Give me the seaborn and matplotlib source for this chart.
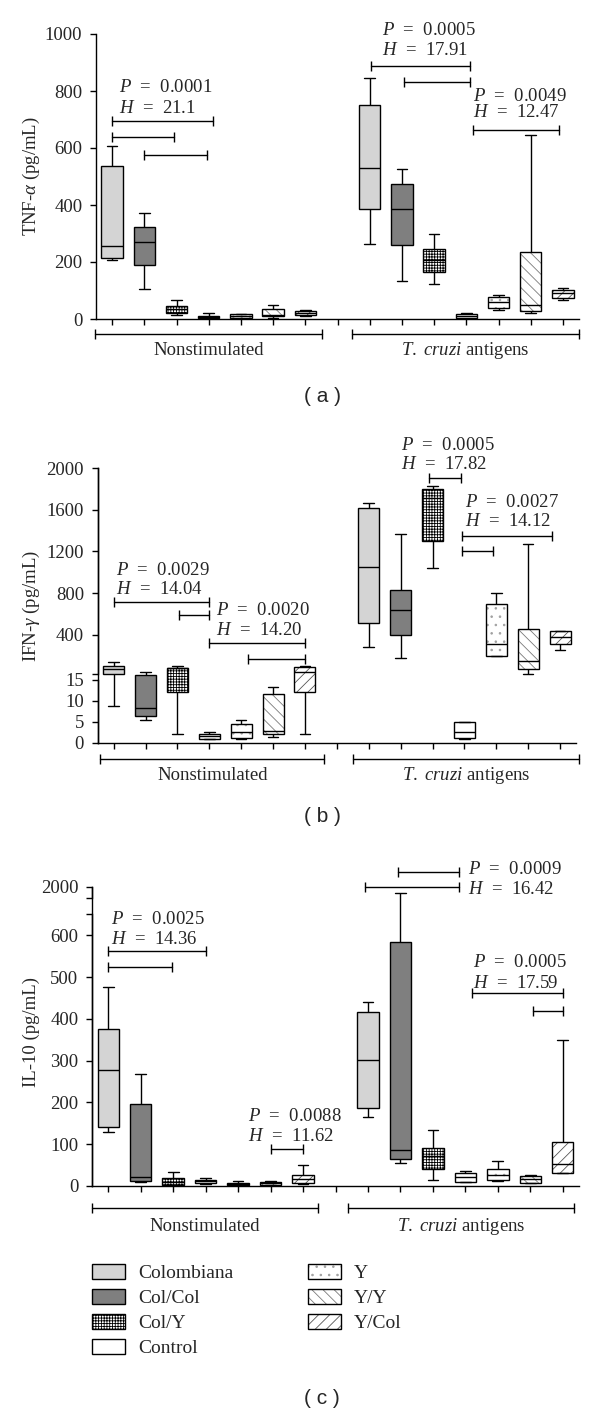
import numpy as np
import pandas as pd
import matplotlib
matplotlib.use("Agg")
import matplotlib.pyplot as plt
import seaborn as sns
from matplotlib.colors import to_rgba
from matplotlib.patches import Patch

groups = ["Colombiana", "Col/Col", "Col/Y", "Control", "Y", "Y/Y", "Y/Col"]
conditions = ["Nonstimulated", "T. cruzi antigens"]

# five-number summaries per group: min, q1, median, q3, max (pg/mL)
tnf_nonstim = [[208, 213, 257, 536, 608], [105, 191, 269, 322, 371], [14, 22, 35, 46, 68],
               [0, 2, 7, 12, 21], [0, 2, 10, 17, 18], [5, 10, 15, 35, 48], [12, 14, 21, 27, 33]]
tnf_tcruzi = [[264, 386, 529, 750, 847], [134, 260, 387, 475, 528], [124, 165, 208, 247, 298],
              [0, 3, 11, 16, 22], [33, 39, 60, 77, 85], [21, 28, 49, 234, 646], [67, 75, 90, 102, 109]]

ifn_nonstim = [[8.8, 21.7, 67, 102, 134], [5.4, 6.5, 8.4, 21, 42], [2.1, 12.1, 78, 83, 96],
               [0.9, 1.0, 1.5, 2.1, 2.5], [1.0, 1.05, 2.5, 4.4, 5.4], [1.4, 2.0, 2.9, 11.6, 13.4],
               [2.1, 12.1, 38, 86, 102]]
ifn_tcruzi = [[284, 509, 1054, 1618, 1669], [176, 397, 640, 827, 1365], [1038, 1301, 1717, 1804, 1833],
              [1.0, 1.05, 2.6, 4.95, 4.95], [198, 198, 308, 692, 804], [22, 67, 147, 452, 1275],
              [253, 308, 375, 435, 435]]

il10_nonstim = [[130, 140, 277, 376, 477], [9, 12, 21, 195, 269], [2, 3, 10, 20, 33],
                [5, 6.4, 11, 15, 19], [1, 2, 5, 8, 12.8], [2, 3.5, 6, 9.5, 11], [5, 6.4, 17.5, 25.6, 50]]
il10_tcruzi = [[164, 186, 301, 417, 439], [56, 64, 87, 584, 1708], [14, 40, 72, 91, 135],
               [9, 9.6, 21, 30, 36], [12, 14, 26, 41, 61], [6.4, 8, 16, 24, 26], [30, 32, 53, 105, 349]]

# Kruskal-Wallis results: P, H
tnf_tests = [("0.0001", "21.1"), ("0.0005", "17.91"), ("0.0049", "12.47")]
ifn_tests = [("0.0029", "14.04"), ("0.0020", "14.20"), ("0.0005", "17.82"), ("0.0027", "14.12")]
il10_tests = [("0.0025", "14.36"), ("0.0088", "11.62"), ("0.0009", "16.42"), ("0.0005", "17.59")]

fills = {"Colombiana": "#d4d4d4", "Col/Col": "#7f7f7f", "Col/Y": "white", "Control": "white",
         "Y": "white", "Y/Y": "white", "Y/Col": "white"}
hatches = {"Col/Y": "++++++", "Y": "..", "Y/Y": "\\\\\\", "Y/Col": "///"}
hatch_colors = {"Col/Y": "black", "Y": "#a0a0a0", "Y/Y": "#7a7a7a", "Y/Col": "#555555"}

sns.set_style("ticks")
plt.rcParams.update({
    "font.family": ["Liberation Serif", "DejaVu Serif"],
    "mathtext.fontset": "custom",
    "mathtext.rm": "Liberation Serif",
    "mathtext.it": "Liberation Serif:italic",
    "mathtext.bf": "Liberation Serif:bold",
    "hatch.linewidth": 0.6,
    "axes.linewidth": 1.0,
    "axes.edgecolor": "black",
})

FS = 13.5
W, H = 600, 1412
fig = plt.figure(figsize=(W / 100, H / 100), dpi=100)


def add_ax(left, right, top, bottom):
    return fig.add_axes([left / W, 1 - bottom / H, (right - left) / W, (bottom - top) / H])


def broken(knots_v, knots_p):
    kv = np.asarray(knots_v, float)
    kp = np.asarray(knots_p, float)
    s0 = (kp[1] - kp[0]) / (kv[1] - kv[0])
    s1 = (kp[-1] - kp[-2]) / (kv[-1] - kv[-2])
    kv = np.r_[kv[0] - 1e5, kv, kv[-1] + 1e5]
    kp = np.r_[kp[0] - 1e5 * s0, kp, kp[-1] + 1e5 * s1]
    return (lambda v: np.interp(np.asarray(v, float), kv, kp),
            lambda p: np.interp(np.asarray(p, float), kp, kv))


def style_hatch(patch, g):
    if g in hatches:
        patch.set_hatch(hatches[g])
        if hasattr(patch, "set_hatchcolor"):
            patch.set_hatchcolor(hatch_colors[g])
        else:
            patch._hatch_color = to_rgba(hatch_colors[g])


def draw_boxes(ax, nonstim, tcruzi):
    rows = []
    for cond, summaries in zip(conditions, [nonstim, tcruzi]):
        for g, vals in zip(groups, summaries):
            for v in vals:
                rows.append({"slot": f"{cond}|{g}", "group": g, "value": v})
    df = pd.DataFrame(rows)
    order = [f"{conditions[0]}|{g}" for g in groups] + ["gap"] + [f"{conditions[1]}|{g}" for g in groups]
    sns.boxplot(data=df, x="slot", y="value", hue="group", order=order, hue_order=groups,
                palette=fills, saturation=1, dodge=False, width=0.66, whis=(0, 100),
                linecolor="black", linewidth=1.0, legend=False, ax=ax)
    for patch in ax.patches:
        xs = patch.get_path().vertices[:, 0]
        slot = int(round((xs.min() + xs.max()) / 2))
        style_hatch(patch, groups[slot if slot < 7 else slot - 8])


def finish(ax, ylabel, label_xy, brackets_below):
    sns.despine(ax=ax)
    ax.set_xlim(-0.5, 14.5)
    ax.set_xticks(range(15))
    ax.set_xticklabels([])
    ax.set_xlabel("")
    ax.tick_params(axis="both", direction="out", length=4.3, width=1.0, color="black",
                   labelsize=FS, pad=5.5)
    ax.set_ylabel(ylabel, fontsize=FS, va="center")
    ax.yaxis.set_label_coords(*label_xy)
    (n0, n1, t0, t1, yl, yt) = brackets_below
    tr = ax.get_xaxis_transform()
    for (a, b), name in zip([(n0, n1), (t0, t1)], conditions):
        ax.plot([a, b], [yl, yl], transform=tr, color="black", lw=1.0, marker="|",
                markersize=7.5, markeredgewidth=1.0, clip_on=False)
        txt = "Nonstimulated" if name == conditions[0] else "$T.\\ cruzi$ antigens"
        ax.text((a + b) / 2, yt, txt, transform=tr, ha="center", va="center", fontsize=FS)


def bracket(ax, x0, x1, y):
    ax.plot([x0, x1], [y, y], color="black", lw=1.0, marker="|", markersize=6.5,
            markeredgewidth=1.0, clip_on=False)


def stat_text(ax, x, yp, yh, test):
    p, h = test
    ax.text(x, yp, f"$P$  =  {p}", ha="left", va="center", fontsize=FS)
    ax.text(x, yh, f"$H$  =  {h}", ha="left", va="center", fontsize=FS)


def left_segments(ax, segs):
    ax.spines["left"].set_visible(False)
    for lo, hi in segs:
        ax.plot([0, 0], [lo, hi], transform=ax.get_yaxis_transform(), color="black",
                lw=1.0, clip_on=False, solid_capstyle="projecting")


# ---- (a) TNF-alpha ----
ax = add_ax(96, 579, 34, 319)
draw_boxes(ax, tnf_nonstim, tnf_tcruzi)
ax.set_ylim(0, 1000)
ax.set_yticks(range(0, 1001, 200))
finish(ax, "TNF-$\\alpha$ (pg/mL)", (-0.133, 0.5), (-0.53, 6.52, 7.45, 14.5, -0.0526, -0.109))
for x0, x1, y in [(0, 3.13, 693), (0, 1.92, 637), (1, 2.96, 577),
                  (8.03, 11.12, 888), (9.06, 11.12, 832), (11.2, 13.88, 662)]:
    bracket(ax, x0, x1, y)
for (x, yp, yh), test in zip([(0.2, 811, 740), (8.38, 1011, 941), (11.22, 779, 723)], tnf_tests):
    stat_text(ax, x, yp, yh, test)
fig.text(323 / W, 1 - 397 / H, "( a )", ha="center", va="center", fontsize=15,
         family="Liberation Sans")

# ---- (b) IFN-gamma ----
ax = add_ax(97.7, 576, 468.3, 742.7)
draw_boxes(ax, ifn_nonstim, ifn_tcruzi)
ax.set_yscale("function", functions=broken([0, 15, 22, 2000], [0, 62.7, 68.7, 274.4]))
ax.set_ylim(0, 2000)
ax.set_yticks([0, 5, 10, 15, 22, 400, 800, 1200, 1600, 2000])
ax.set_yticklabels(["0", "5", "10", "15", "", "400", "800", "1200", "1600", "2000"])
left_segments(ax, [(0, 15), (22, 2000)])
finish(ax, "IFN-$\\gamma$ (pg/mL)", (-0.138, 0.5), (-0.42, 6.61, 7.52, 14.6, -0.0605, -0.118))
for x0, x1, y in [(0, 3, 717), (2.05, 3, 589), (3, 6, 317), (4.2, 6, 166),
                  (9.9, 10.9, 1909), (10.94, 13.74, 1349), (10.94, 11.9, 1205)]:
    bracket(ax, x0, x1, y)
for (x, yp, yh), test in zip([(0.08, 1022, 830), (3.22, 637, 445), (9.02, 2224, 2041),
                              (11.02, 1669, 1486)], ifn_tests):
    stat_text(ax, x, yp, yh, test)
fig.text(322 / W, 1 - 817 / H, "( b )", ha="center", va="center", fontsize=15,
         family="Liberation Sans")

# ---- (c) IL-10 ----
ax = add_ax(92, 579, 886.7, 1186)
draw_boxes(ax, il10_nonstim, il10_tcruzi)
ax.set_yscale("function", functions=broken([0, 650, 1500, 2000], [0, 271.7, 288, 299.3]))
ax.set_ylim(0, 2000)
ax.set_yticks([0, 100, 200, 300, 400, 500, 600, 650, 1500, 2000])
ax.set_yticklabels(["0", "100", "200", "300", "400", "500", "600", "", "", "2000"])
left_segments(ax, [(0, 650), (1500, 2000)])
finish(ax, "IL-10 (pg/mL)", (-0.124, 0.513), (-0.5, 6.46, 7.4, 14.36, -0.0725, -0.134))
for x0, x1, y in [(0, 3, 563), (0, 1.95, 524), (5, 6, 88),
                  (8.93, 10.8, 2664), (7.9, 10.8, 2000), (11.2, 14.02, 461), (13.07, 14.02, 419)]:
    bracket(ax, x0, x1, y)
for (x, yp, yh), test in zip([(0.1, 638, 590), (4.3, 167, 118), (11.07, 2739, 1885),
                              (11.25, 534, 485)], il10_tests):
    stat_text(ax, x, yp, yh, test)

handles = []
for g in groups:
    hp = Patch(facecolor=fills[g], edgecolor="black", linewidth=1.0, label=g)
    style_hatch(hp, g)
    handles.append(hp)
leg = fig.legend(handles=handles, ncol=2, loc="upper left", bbox_to_anchor=(92 / W, 1 - 1264 / H),
                 frameon=False, fontsize=14, handlelength=1.7, handleheight=0.82, handletextpad=0.67,
                 columnspacing=3.85, labelspacing=0.34, borderpad=0, borderaxespad=0)
for hp, g in zip(leg.get_patches(), groups):
    style_hatch(hp, g)
fig.text(322 / W, 1 - 1398 / H, "( c )", ha="center", va="center", fontsize=15,
         family="Liberation Sans")

fig.savefig("out.png", dpi=100)
